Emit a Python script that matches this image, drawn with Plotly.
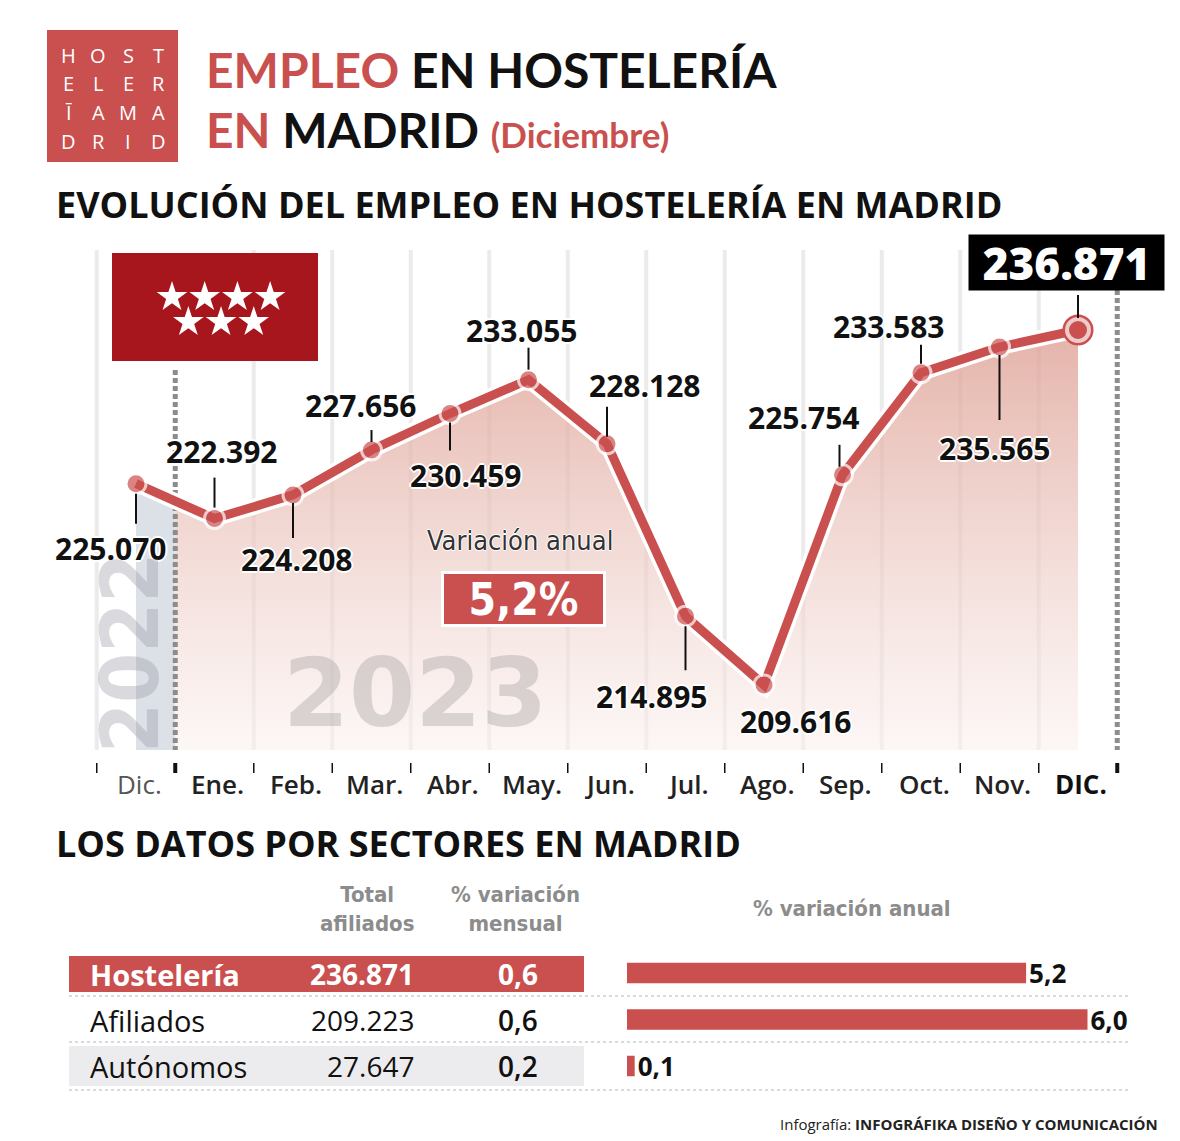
import plotly.graph_objects as go

# ---------------- DATA ----------------
months = ["Dic.", "Ene.", "Feb.", "Mar.", "Abr.", "May.", "Jun.", "Jul.", "Ago.", "Sep.", "Oct.", "Nov.", "DIC."]
afiliados_hosteleria = [225070, 222392, 224208, 227656, 230459, 233055, 228128,
                        214895, 209616, 225754, 233583, 235565, 236871]
variacion_anual_hosteleria = 5.2

sectores = ["Hostelería", "Afiliados", "Autónomos"]
total_afiliados = [236871, 209223, 27647]
var_mensual = [0.6, 0.6, 0.2]
var_anual = [5.2, 6.0, 0.1]

# ---------------- STYLE ----------------
W, H = 1180, 1141
RED = "#c9504e"
DARKRED = "#a8161d"
NARROW = "DejaVu Sans Condensed, Liberation Sans Narrow, Roboto, sans-serif"
OPEN = "Open Sans, sans-serif"

X0_PX, DX_PX = 136, 78.5          # pixel of first month, pixels per month
YR = [174606, 262206]              # y-axis range spanning full page height
PXY = H / (YR[1] - YR[0])

def px2x(px):
    return (px - X0_PX) / DX_PX

def px2val(py):
    return YR[1] - py / PXY

def pxp(px):
    return px / W

def pyp(py):
    return 1 - py / H

def fmt_int(v):
    return f"{v:,}".replace(",", ".")

def fmt_dec(v):
    return f"{v:.1f}".replace(".", ",")

def A(**kw):
    d = dict(showarrow=False, xanchor="center", yanchor="middle", xref="paper", yref="paper")
    d.update(kw)
    return d

# label placement per point: (dx, dy, line_start, line_end, line_dx) in px, +dy = down
label_pos = [(-26, 65, 10, 40, 0), (7, -67, -11, -41, 0), (3, 65, 8, 43, 0),
             (-11, -45, -8, -20, 0), (15, 62, 9, 37, 0), (-7, -49, -10, -32, 0),
             (37, -58, -7, -37, 0), (-34, 80, 10, 54, 0), (31, 37, None, None, 0),
             (-39, -57, -8, -30, -3), (-33, -46, -9, -28, 0), (-5, 101, 8, 73, 0),
             (-12, -67, -12, -35, 0)]

n = len(afiliados_hosteleria)
xs = list(range(n))
BASE = px2val(750)
mid_val = (afiliados_hosteleria[0] + afiliados_hosteleria[1]) / 2

fig = go.Figure()

# 2022 area (gray)
fig.add_trace(go.Scatter(x=[0, 0.5], y=[BASE, BASE], mode="lines",
                         line=dict(width=0), hoverinfo="skip", showlegend=False))
fig.add_trace(go.Scatter(x=[0, 0.5], y=[afiliados_hosteleria[0], mid_val], mode="lines",
                         line=dict(width=0), fill="tonexty", fillcolor="rgba(205,212,222,0.7)",
                         hoverinfo="skip", showlegend=False))
# 2023 area (gradient)
x23 = [0.5] + xs[1:]
y23 = [mid_val] + afiliados_hosteleria[1:]
fig.add_trace(go.Scatter(x=x23, y=[BASE] * len(x23), mode="lines",
                         line=dict(width=0), hoverinfo="skip", showlegend=False))
fig.add_trace(go.Scatter(x=x23, y=y23, mode="lines", line=dict(width=0), fill="tonexty",
                         fillgradient=dict(type="vertical", start=BASE, stop=max(afiliados_hosteleria),
                                           colorscale=[[0, "rgba(250,240,238,0.55)"],
                                                       [1, "rgba(222,160,148,0.8)"]]),
                         hoverinfo="skip", showlegend=False))

# dotted year separators
for xv, top in [(0.5, 370), (12.5, 290)]:
    fig.add_trace(go.Scatter(x=[xv, xv], y=[px2val(top), px2val(750)], mode="lines",
                             line=dict(color="#8c8c8c", width=5, dash="5px,3px"),
                             hoverinfo="skip", showlegend=False))

# line with white outline
fig.add_trace(go.Scatter(x=xs, y=afiliados_hosteleria, mode="lines",
                         line=dict(color="white", width=16), hoverinfo="skip", showlegend=False))
fig.add_trace(go.Scatter(x=[xs[-1]], y=[afiliados_hosteleria[-1]], mode="markers",
                         marker=dict(size=31, color=RED), hoverinfo="skip", showlegend=False))
fig.add_trace(go.Scatter(x=xs, y=afiliados_hosteleria, mode="lines+markers",
                         line=dict(color=RED, width=9),
                         marker=dict(size=[20] * (n - 1) + [22], color=RED,
                                     line=dict(color="white", width=[3] * (n - 1) + [4])),
                         showlegend=False))

# horizontal bars (variación anual)
fig.add_trace(go.Bar(x=var_anual, y=sectores, orientation="h", xaxis="x2", yaxis="y2",
                     marker=dict(color=RED, line=dict(width=0)), width=0.44,
                     text=[fmt_dec(v) for v in var_anual], textposition="outside",
                     constraintext="none",
                     textfont=dict(family=OPEN, size=26, color="#111", weight=700),
                     cliponaxis=False, showlegend=False))

# flag stars (7-star pattern: 4 on top row, 3 offset below) on their own hidden axes
star_x = [c for c in range(4)] + [c + 0.5 for c in range(3)]
star_y = [0] * 4 + [1] * 3
fig.add_trace(go.Scatter(x=star_x, y=star_y, mode="markers", xaxis="x3", yaxis="y3",
                         marker=dict(symbol="star", size=23, color="white", line=dict(width=0)),
                         hoverinfo="skip", showlegend=False))

shapes = []
ann = []

# gridlines
for i in range(-1, n):
    xv = i + 0.5
    if xv in (0.5, 12.5):
        continue
    shapes.append(dict(type="line", xref="x", yref="paper", x0=xv, x1=xv,
                       y0=pyp(250), y1=pyp(750), line=dict(color="#ebebeb", width=4), layer="below"))
# bottom ticks
for i in range(-1, n):
    xv = i + 0.5
    thick = xv in (0.5, 12.5)
    shapes.append(dict(type="line", xref="x", yref="paper", x0=xv, x1=xv,
                       y0=pyp(763), y1=pyp(773),
                       line=dict(color="#111", width=4 if thick else 1.5)))

# leader lines and value labels
for i, v in enumerate(afiliados_hosteleria):
    dx, dy, ls, le, ldx = label_pos[i]
    if ls is not None:
        shapes.append(dict(type="line", xref="x", yref="y",
                           x0=i + ldx / DX_PX, x1=i + ldx / DX_PX,
                           y0=v - ls / PXY, y1=v - le / PXY,
                           line=dict(color="#111", width=2)))
    if i == n - 1:
        ann.append(A(x=i, y=v, xref="x", yref="y", xshift=dx, yshift=-dy,
                     text=fmt_int(v), bgcolor="#000", width=195, height=55, borderpad=0,
                     font=dict(family=OPEN, size=44, color="white", weight=800)))
    else:
        ann.append(A(x=i, y=v, xref="x", yref="y", xshift=dx, yshift=-dy,
                     text=fmt_int(v),
                     font=dict(family=OPEN, size=30, color="#111", weight=700,
                               shadow="2px 0 0 #fff, -2px 0 0 #fff, 0 2px 0 #fff, 0 -2px 0 #fff")))

# month labels
for i, m in enumerate(months):
    if i == 0:
        f = dict(family=OPEN, size=26, color="#555", weight=400)
    elif i == n - 1:
        f = dict(family=OPEN, size=26, color="#111", weight=700)
    else:
        f = dict(family=OPEN, size=26, color="#222", weight=600)
    ann.append(A(x=i + 3 / DX_PX, y=pyp(784), xref="x", text=m, font=f))

# logo
shapes.append(dict(type="rect", xref="paper", yref="paper", x0=pxp(47), x1=pxp(178),
                   y0=pyp(162), y1=pyp(30), fillcolor=RED, line=dict(width=0)))
logo_rows = [["H", "O", "S", "T"], ["E", "L", "E", "R"], ["Ī", "A", "M", "A"], ["D", "R", "I", "D"]]
for r, row in enumerate(logo_rows):
    for c, ch in enumerate(row):
        ann.append(A(x=pxp(68 + 30 * c), y=pyp(55 + 28.7 * r), text=ch,
                     font=dict(family=OPEN, size=20, color="white", weight=400)))

# main title
ann.append(A(x=pxp(204), y=pyp(70), xanchor="left",
             text=f'<span style="color:{RED}">EMPLEO</span> EN HOSTELERÍA',
             font=dict(family="Lato, sans-serif", size=48, color="#111", weight=700)))
ann.append(A(x=pxp(204), y=pyp(130), xanchor="left",
             text=f'<span style="color:{RED}">EN</span> MADRID <span style="color:{RED};font-size:35px">(Diciembre)</span>',
             font=dict(family="Lato, sans-serif", size=48, color="#111", weight=700)))

# section titles
ann.append(A(x=pxp(54), y=pyp(204), xanchor="left",
             text="EVOLUCIÓN DEL EMPLEO EN HOSTELERÍA EN MADRID",
             font=dict(family=OPEN, size=36, color="#111", weight=700)))
ann.append(A(x=pxp(54), y=pyp(843), xanchor="left",
             text="LOS DATOS POR SECTORES EN MADRID",
             font=dict(family=OPEN, size=36, color="#111", weight=700)))

# flag background
shapes.append(dict(type="rect", xref="paper", yref="paper", x0=pxp(112), x1=pxp(318),
                   y0=pyp(361), y1=pyp(253), fillcolor=DARKRED, line=dict(width=0), layer="below"))

# watermarks
ann.append(A(x=pxp(130), y=pyp(653), textangle=-90, text="2022",
             font=dict(family=NARROW, size=80, color="rgba(150,150,160,0.35)", weight=700)))
ann.append(A(x=pxp(415), y=pyp(693), text="2023",
             font=dict(family="DejaVu Sans", size=95, color="rgba(175,170,170,0.45)", weight=700)))

# variación anual box
ann.append(A(x=pxp(520), y=pyp(540), text="Variación anual",
             font=dict(family=NARROW, size=27, color="#333",
                       shadow="1px 0 0 #fff, -1px 0 0 #fff, 0 1px 0 #fff, 0 -1px 0 #fff")))
ann.append(A(x=pxp(523.5), y=pyp(599),
             text=fmt_dec(variacion_anual_hosteleria) + "%", bgcolor=RED, bordercolor="white",
             borderwidth=3, borderpad=0, width=159, height=50,
             font=dict(family=NARROW, size=44, color="white", weight=700)))

# ---------------- table ----------------
row_y = [974, 1020, 1066]
shapes.append(dict(type="rect", xref="paper", yref="paper", x0=pxp(69), x1=pxp(584),
                   y0=pyp(992), y1=pyp(956), fillcolor=RED, line=dict(width=0), layer="below"))
shapes.append(dict(type="rect", xref="paper", yref="paper", x0=pxp(69), x1=pxp(584),
                   y0=pyp(1086), y1=pyp(1046), fillcolor="#ececee", line=dict(width=0), layer="below"))
for yy in [996, 1042, 1090]:
    shapes.append(dict(type="line", xref="paper", yref="paper", x0=pxp(69), x1=pxp(1130),
                       y0=pyp(yy), y1=pyp(yy), line=dict(color="#b5b5b5", width=1.2, dash="dot")))

hdr_font = dict(family=NARROW, size=22, color="#8c8c8c", weight=700)
ann.append(A(x=pxp(367), y=pyp(909), text="Total<br>afiliados", font=hdr_font))
ann.append(A(x=pxp(515), y=pyp(909), text="% variación<br>mensual", font=hdr_font))
ann.append(A(x=pxp(852), y=pyp(908), text="% variación anual", font=hdr_font))

for r, (s, t, m) in enumerate(zip(sectores, total_afiliados, var_mensual)):
    col = "white" if r == 0 else "#111"
    ann.append(A(x=pxp(88), y=pyp(row_y[r]), xanchor="left", text=s,
                 font=dict(family=OPEN, size=29, color=col, weight=700 if r == 0 else 400)))
    ann.append(A(x=pxp(416), y=pyp(row_y[r]), xanchor="right", text=fmt_int(t),
                 font=dict(family=OPEN, size=28, color=col, weight=700 if r == 0 else 400)))
    ann.append(A(x=pxp(518), y=pyp(row_y[r]), text=fmt_dec(m),
                 font=dict(family=OPEN, size=28, color=col, weight=700 if r == 0 else 600)))

# footer
ann.append(A(x=pxp(1160), y=pyp(1124), xanchor="right",
             text="Infografía: <b>INFOGRÁFIKA DISEÑO Y COMUNICACIÓN</b>",
             font=dict(family=OPEN, size=15, color="#222")))

bar_top, bar_bot = 949.75, 1089.25
# flag-local star grid: 32.7 px per column (col 0 at px 172), 25 px per row (row 0 at px 297)
SX0, SDX, SY0, SDY = 172, 32.7, 297, 25
fig.update_layout(
    width=W, height=H, margin=dict(l=0, r=0, t=0, b=0),
    paper_bgcolor="white", plot_bgcolor="rgba(0,0,0,0)",
    xaxis=dict(domain=[0, 1], range=[px2x(0), px2x(W)], visible=False, fixedrange=True),
    yaxis=dict(domain=[0, 1], range=YR, visible=False, fixedrange=True),
    xaxis2=dict(domain=[pxp(627), pxp(1139)], range=[0, (1139 - 627) / 76.75], visible=False,
                anchor="y2", fixedrange=True),
    yaxis2=dict(domain=[pyp(bar_bot), pyp(bar_top)], type="category", categoryarray=sectores,
                range=[2.5, -0.5], visible=False, anchor="x2", fixedrange=True),
    xaxis3=dict(domain=[pxp(112), pxp(318)], range=[(112 - SX0) / SDX, (318 - SX0) / SDX],
                visible=False, anchor="y3", fixedrange=True),
    yaxis3=dict(domain=[pyp(361), pyp(253)], range=[(361 - SY0) / SDY, (253 - SY0) / SDY],
                visible=False, anchor="x3", fixedrange=True),
    shapes=shapes, annotations=ann, showlegend=False,
)

fig.write_html("out.html", config={"displayModeBar": False},
               post_script="document.body.style.margin='0';document.body.style.overflow='hidden';")
